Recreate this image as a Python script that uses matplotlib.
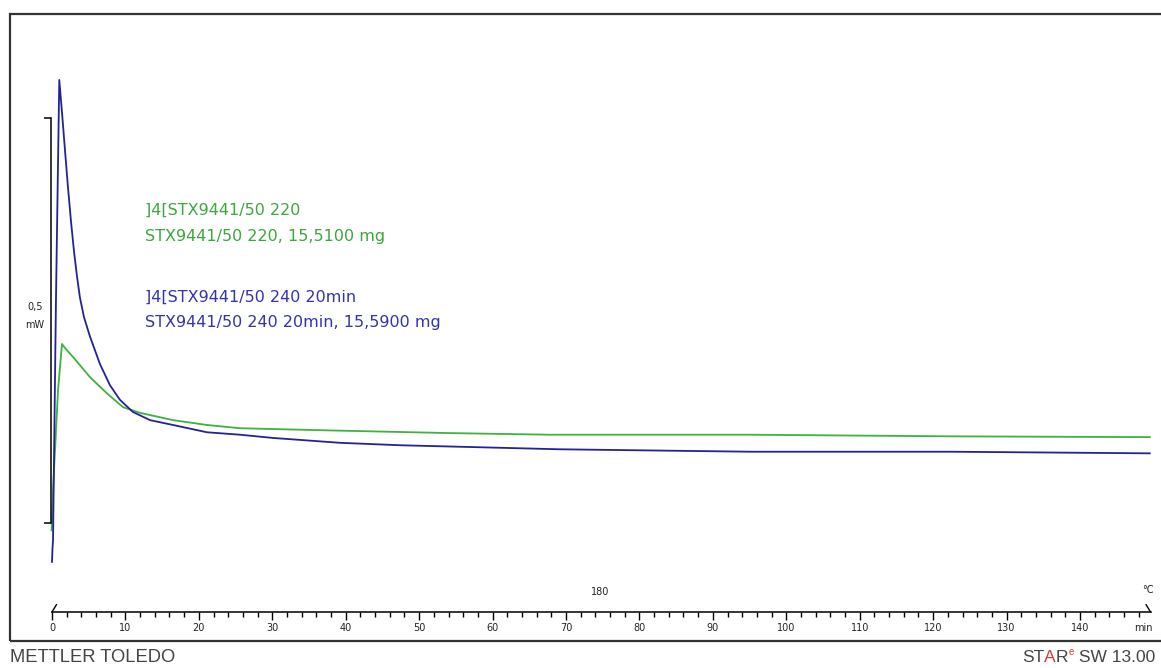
import matplotlib
matplotlib.use('Agg')
import matplotlib.pyplot as plt
from matplotlib.patches import Rectangle

W, H = 1161, 668

# blue curve: ]4[STX9441/50 240 20min  (time in min, heat flow in mW, offset)
blue_t = [0.00, 0.07, 0.14, 0.54, 0.99, 1.36, 1.77, 2.18, 2.59, 3.00, 3.41,
          3.81, 4.36, 5.18, 6.54, 7.90, 9.26, 11.03, 13.35, 16.48, 21.11,
          25.60, 30.10, 39.22, 47.39, 69.18, 95.06, 122.3, 149.5]
blue_y = [-0.048, -0.031, -0.021, 0.275, 0.547, 0.507, 0.460, 0.414, 0.372,
          0.335, 0.304, 0.278, 0.254, 0.230, 0.196, 0.170, 0.152, 0.137,
          0.127, 0.121, 0.112, 0.109, 0.105, 0.099, 0.096, 0.091, 0.088,
          0.088, 0.086]

# green curve: ]4[STX9441/50 220
green_t = [-0.05, 0.00, 0.14, 0.41, 0.82, 1.36, 1.77, 2.86, 5.18, 7.49, 9.67,
           11.98, 16.48, 21.11, 25.60, 39.22, 54.2, 67.8, 95.06, 122.3, 149.5]
green_y = [-0.009, 0.004, 0.041, 0.090, 0.164, 0.221, 0.216, 0.205, 0.180,
           0.160, 0.143, 0.136, 0.127, 0.121, 0.117, 0.114, 0.111, 0.109,
           0.109, 0.107, 0.106]

major_ticks = list(range(0, 141, 10))
minor_ticks = list(range(0, 149, 2))
scale_bar = [0, 0.5]

GREEN = '#3db23d'
BLUE = '#22229a'
GREEN_TXT = '#3aa83a'
BLUE_TXT = '#3333b0'


def fx(px):
    return px / W


def fy(py):
    return 1 - py / H


fig = plt.figure(figsize=(W / 100, H / 100), dpi=100)
fig.patch.set_facecolor('white')

# outer frame (right side runs off the picture)
fig.patches.append(Rectangle((fx(10), fy(641)), 1.2, fy(14) - fy(641),
                             transform=fig.transFigure, fill=False,
                             edgecolor='#333333', linewidth=1.6))

ax = fig.add_axes([0, 0, 1, 1])
ax.patch.set_alpha(0)
ax.set_xlim(-52 / 7.343, (W - 52) / 7.343)
ax.set_ylim((523 - H) / 810, 523 / 810)

ax.plot(green_t, green_y, color=GREEN, lw=1.3)
ax.plot(blue_t, blue_y, color=BLUE, lw=1.3)

for s in ['top', 'right']:
    ax.spines[s].set_visible(False)
x_axis_y = (523 - 612) / 810
ax.spines['bottom'].set_position(('data', x_axis_y))
ax.spines['bottom'].set_bounds(0, 149.6)
ax.spines['left'].set_position(('data', -0.15))
ax.spines['left'].set_bounds(*scale_bar)
for s in ['bottom', 'left']:
    ax.spines[s].set_linewidth(1.1)

ax.set_yticks(scale_bar)
ax.tick_params(axis='y', direction='out', length=5, width=1.1, labelleft=False)
ax.set_xticks(major_ticks)
ax.set_xticks(minor_ticks, minor=True)
ax.set_xticklabels([str(t) for t in major_ticks])
ax.tick_params(axis='x', which='major', direction='out', length=6, width=1,
               labelsize=7, pad=2, colors='black', labelcolor='#222222')
ax.tick_params(axis='x', which='minor', direction='out', length=3.5, width=1)

# small hooks at both ends of the time axis
ax.plot([0, 0.6], [x_axis_y, x_axis_y + 0.009], color='black', lw=1)
ax.plot([149.0, 149.6], [x_axis_y + 0.009, x_axis_y], color='black', lw=1)

ax.text(148.6, x_axis_y - 0.0198, 'min', fontsize=7, ha='center', va='center',
        color='#222222')
ax.text(149.3, x_axis_y + 0.027, '°C', fontsize=7, ha='center', va='center',
        color='#222222')
ax.text(74.7, x_axis_y + 0.025, '180', fontsize=7, ha='center', va='center',
        color='#222222')

fig.text(fx(35), fy(307), '0,5', fontsize=7, ha='center', va='center', color='#222222')
fig.text(fx(35), fy(325), 'mW', fontsize=7, ha='center', va='center', color='#222222')

fig.text(fx(145), fy(210), ']4[STX9441/50 220', color=GREEN_TXT, fontsize=11.5, va='center')
fig.text(fx(145), fy(237), 'STX9441/50 220, 15,5100 mg', color=GREEN_TXT, fontsize=11.5, va='center')
fig.text(fx(145), fy(297), ']4[STX9441/50 240 20min', color=BLUE_TXT, fontsize=11.5, va='center')
fig.text(fx(145), fy(323), 'STX9441/50 240 20min, 15,5900 mg', color=BLUE_TXT, fontsize=11.5, va='center')

fig.text(fx(10), fy(657), 'METTLER TOLEDO', fontsize=13.2, family='Liberation Sans',
         color='#444444', va='center')

# STARe SW 13.00, laid out piece by piece from the right edge
renderer = fig.canvas.get_renderer()
pieces = [('ST', '#444444', 12.5, 0), ('A', '#d23c3c', 12.5, 0), ('R', '#444444', 12.5, 0),
          ('e', '#d23c3c', 7, 5), (' SW 13.00', '#444444', 12.5, 0)]
widths = []
for txt, col, size, dy in pieces:
    t = fig.text(0, 0, txt, fontsize=size, family='Liberation Sans')
    widths.append(t.get_window_extent(renderer).width)
    t.remove()
x = 1155 - sum(widths)
for (txt, col, size, dy), w in zip(pieces, widths):
    fig.text(fx(x), fy(657 - dy), txt, fontsize=size, family='Liberation Sans',
             color=col, va='center')
    x += w

fig.savefig('out.png', dpi=100)
